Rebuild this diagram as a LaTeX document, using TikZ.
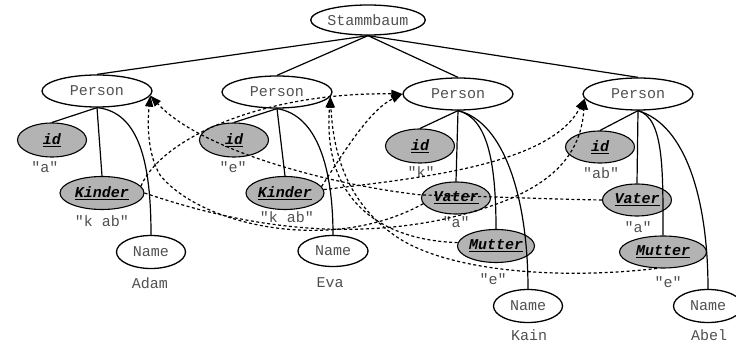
\documentclass[tikz,border=0pt]{standalone}
\usepackage{fontspec}
\setmainfont{Liberation Mono}[Ligatures=TeXOff]
\usetikzlibrary{shapes.geometric,arrows.meta}
\definecolor{txtgray}{HTML}{505050}
\definecolor{attfill}{HTML}{B3B3B3}
\newcommand\figfont{\fontsize{15}{18}\selectfont}
\tikzset{
  elem/.style={ellipse, draw, line width=1.3pt, inner sep=0pt, font=\figfont, text=txtgray, minimum height=32pt},
  att/.style={ellipse, draw, fill=attfill, line width=1.1pt, inner sep=0pt, font=\figfont\bfseries\itshape, minimum height=33pt},
  val/.style={font=\figfont, text=txtgray, inner sep=0pt},
  tree/.style={line width=1.2pt},
  ref/.style={line width=1.2pt, dash pattern=on 3pt off 2.5pt, -{Triangle[length=11pt,width=8pt]}}
}
\begin{document}
\begin{tikzpicture}[x=1pt,y=-1pt]
\useasboundingbox (0,0) rectangle (736,344);
% nodes
\node[elem, minimum width=110pt, minimum height=30pt] (S) at (368,20) {Stammbaum};
\node[elem, minimum width=110pt] (PA) at (97,91) {Person};
\node[elem, minimum width=110pt] (PE) at (277,92) {Person};
\node[elem, minimum width=110pt] (PK) at (458,94) {Person};
\node[elem, minimum width=110pt] (PB) at (638,94) {Person};
% Adam
\node[att, minimum width=69pt, minimum height=34pt] (IA) at (52,140) {\underline{id}};
\node[val] (vIA) at (45,167) {"a"};
\node[att, minimum width=84pt] (KA) at (102,193) {\underline{Kinder}};
\node[val] (vKA) at (102,221) {"k ab"};
\node[elem, minimum width=69pt, minimum height=33pt] (NA) at (151,252) {Name};
\node[val] (vNA) at (150,283) {Adam};
% Eva
\node[att, minimum width=69pt, minimum height=34pt] (IE) at (234,140) {\underline{id}};
\node[val] (vIE) at (233,167) {"e"};
\node[att, minimum width=78pt] (KE) at (285,193) {\underline{Kinder}};
\node[val] (vKE) at (287,217) {"k ab"};
\node[elem, minimum width=70pt, minimum height=31pt] (NE) at (333,251) {Name};
\node[val] (vNE) at (330,283) {Eva};
% Kain
\node[att, minimum width=69pt, minimum height=34pt] (IK) at (420,146) {\underline{id}};
\node[val] (vIK) at (421,172) {"k"};
\node[att, minimum width=69pt, minimum height=32pt] (VK) at (456,198) {\underline{Vater}};
\node[val] (vVK) at (456,222) {"a"};
\node[att, minimum width=77pt] (MK) at (496,246) {\underline{Mutter}};
\node[val] (vMK) at (493,279) {"e"};
\node[elem, minimum width=69pt, minimum height=33pt] (NK) at (528,306) {Name};
\node[val] (vNK) at (529,335) {Kain};
% Abel
\node[att, minimum width=69pt, minimum height=32pt] (IB) at (600,147) {\underline{id}};
\node[val] (vIB) at (601,173) {"ab"};
\node[att, minimum width=69pt, minimum height=32pt] (VB) at (637,200) {\underline{Vater}};
\node[val] (vVB) at (638,227) {"a"};
\node[att, minimum width=87pt, minimum height=32pt] (MB) at (663,252) {\underline{Mutter}};
\node[val] (vMB) at (668,282) {"e"};
\node[elem, minimum width=69pt, minimum height=33pt] (NB) at (708,306) {Name};
\node[val] (vNB) at (709,335) {Abel};
% tree edges
\draw[tree] (S.south) -- (PA.north);
\draw[tree] (S.south) -- (PE.north);
\draw[tree] (S.south) -- (PK.north);
\draw[tree] (S.south) -- (PB.north);
\draw[tree] (PA.south) -- (IA.north);
\draw[tree] (PA.south) -- (KA.north);
\draw[tree] (PA.south) .. controls (140,112) and (151,165) .. (NA.north);
\draw[tree] (PE.south) -- (IE.north);
\draw[tree] (PE.south) -- (KE.north);
\draw[tree] (PE.south) .. controls (318,115) and (333,170) .. (NE.north);
\draw[tree] (PK.south) -- (IK.north);
\draw[tree] (PK.south) -- (VK.north);
\draw[tree] (PK.south) .. controls (487,118) and (496,160) .. (MK.north);
\draw[tree] (PK.south) .. controls (505,122) and (528,200) .. (NK.north);
\draw[tree] (PB.south) -- (IB.north);
\draw[tree] (PB.south) -- (VB.north);
\draw[tree] (PB.south) .. controls (664,118) and (663,170) .. (MB.north);
\draw[tree] (PB.south) .. controls (686,125) and (708,200) .. (NB.north);
% IDREF edges
\draw[ref] (KA.10) .. controls (160,140) and (260,92) .. (PK.west);
\draw[ref] (KE.10) .. controls (345,150) and (370,110) .. (PK.west);
\draw[ref] (KA.east) .. controls (230,222) and (330,242) .. (440,220) .. controls (530,200) and (580,170) .. (PB.185);
\draw[ref] (KE.5) .. controls (420,178) and (550,165) .. (PB.185);
\draw[ref] (VB.west) .. controls (540,199) and (480,196) .. (VK.175) .. controls (330,185) and (200,150) .. (PA.355);
\draw[ref] (VK.190) .. controls (330,255) and (200,225) .. (160,175) .. controls (148,155) and (147,125) .. (PA.355);
\draw[ref] (MK.175) .. controls (380,240) and (322,200) .. (PE.355);
\draw[ref] (MB.250) .. controls (560,280) and (440,272) .. (390,232) .. controls (345,198) and (333,150) .. (PE.355);
\end{tikzpicture}
\end{document}
